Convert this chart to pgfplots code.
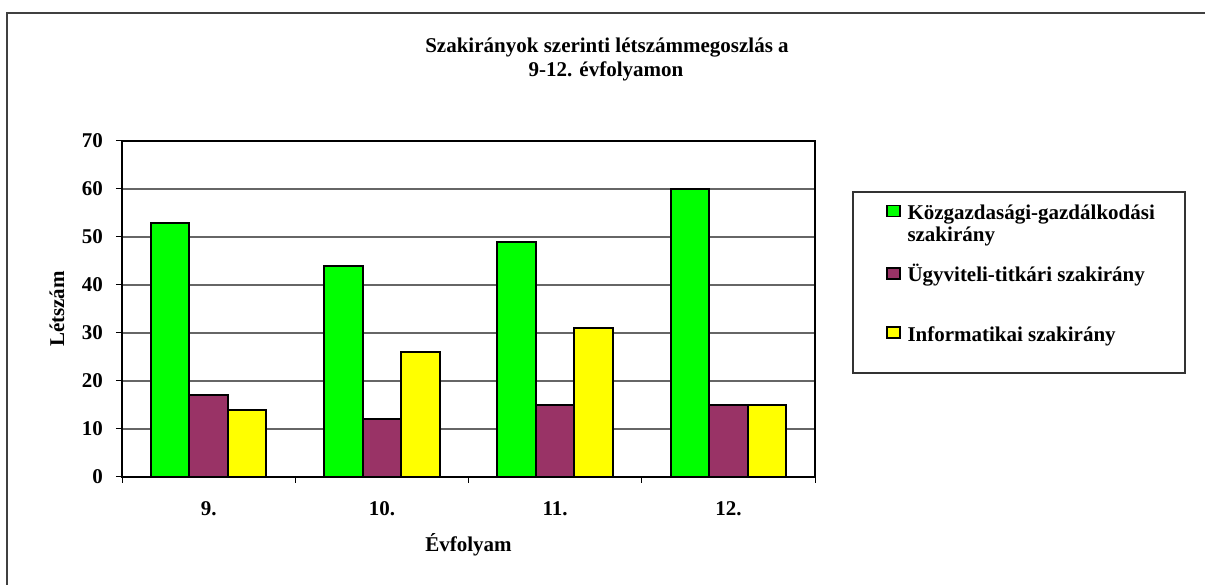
\documentclass[border=0pt]{standalone}
\usepackage{pgfplots}
\pgfplotsset{compat=1.18}
\usepackage{fontspec}
\setmainfont{Liberation Serif}
\definecolor{cgreen}{RGB}{0,255,0}
\definecolor{cpurple}{RGB}{153,51,102}
\definecolor{cyellow}{RGB}{255,255,0}
\begin{document}
\bfseries\fontsize{21}{22}\selectfont
\begin{tikzpicture}
\path[use as bounding box] (0,0) rectangle (1205pt,585pt);
\draw[line width=1.3pt, black!75] (7pt,0pt) -- (7pt,572pt) -- (1205pt,572pt);
\begin{axis}[
  at={(122pt,108pt)}, anchor=south west,
  scale only axis, width=693pt, height=336pt,
  xmin=0.5, xmax=4.5, ymin=0, ymax=70,
  ybar=0pt, bar width=0.2222,
  clip=false,
  /pgf/number format/assume math mode=true,
  xtick={0.5,1.5,2.5,3.5,4.5}, xticklabels={},
  extra x ticks={1,2,3,4}, extra x tick labels={9.,10.,11.,12.},
  extra x tick style={major tick length=0pt, grid=none, xticklabel style={yshift=-17pt}},
  ytick={0,10,...,70},
  xtick pos=left, ytick pos=left,
  tick align=outside, major tick length=6pt,
  tick style={black, line width=1pt},
  ymajorgrids, grid style={black!60, line width=1.2pt},
  axis line style={line width=1.6pt},
  yticklabel style={xshift=-6pt},
  xlabel={Évfolyam}, ylabel={Létszám},
  xlabel style={at={(axis description cs:0.5,-0.2024)}, anchor=center},
  ylabel style={at={(axis description cs:-0.094,0.5)}, anchor=center},
  legend style={at={(axis description cs:1.10245,0.8193)}, anchor=north west,
    draw=none, fill=none, inner sep=0pt, outer sep=0pt, row sep=0pt,
    nodes={inner sep=0pt, outer sep=0pt},
    cells={anchor=base west},
    /tikz/every odd column/.style={column sep=7pt}},
]
\addplot[fill=cgreen, draw=black, line width=2pt,
  legend image code/.code={\draw[fill=cgreen, line width=1.5pt] (0pt,25pt) rectangle (13pt,36pt);}]
  coordinates {(1,53) (2,44) (3,49) (4,60)};
\addlegendentry{\raisebox{0pt}[\height][0pt]{\vbox{\baselineskip=22pt\hbox{\rule{0pt}{18pt}Közgazdasági-gazdálkodási}\hbox{szakirány}}}}
\addplot[fill=cpurple, draw=black, line width=2pt,
  legend image code/.code={\draw[fill=cpurple, line width=1.5pt] (0pt,3pt) rectangle (13pt,14pt);}]
  coordinates {(1,17) (2,12) (3,15) (4,15)};
\addlegendentry{\raisebox{0pt}[37pt][0pt]{Ügyviteli-titkári szakirány}}
\addplot[fill=cyellow, draw=black, line width=2pt,
  legend image code/.code={\draw[fill=cyellow, line width=1.5pt] (0pt,3pt) rectangle (13pt,14pt);}]
  coordinates {(1,14) (2,26) (3,31) (4,15)};
\addlegendentry{\raisebox{0pt}[56pt][0pt]{Informatikai szakirány}}
\draw[line width=2.7pt] (rel axis cs:0,1) -- (rel axis cs:0,0) -- (rel axis cs:1,0);
\end{axis}
\draw[line width=1.3pt, black!80] (853pt,212pt) rectangle (1185pt,393pt);
\node[anchor=base] at (607pt,532pt) {Szakirányok szerinti létszámmegoszlás a};
\node[anchor=base] at (606pt,508pt) {9-12. évfolyamon};
\end{tikzpicture}
\end{document}
